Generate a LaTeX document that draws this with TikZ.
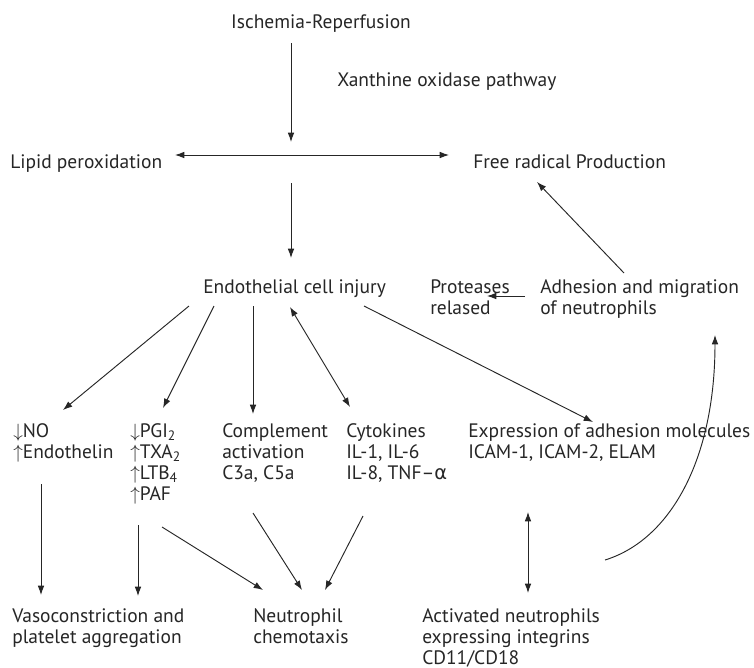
\documentclass[tikz,border=0pt]{standalone}
\usepackage{fontspec}
\setmainfont{PT Sans}
\newfontfamily\grk{DejaVu Sans}
\usetikzlibrary{arrows.meta}
\newcommand{\ml}[1]{\begin{tabular}[t]{@{}l@{}}#1\end{tabular}}
\begin{document}
\begin{tikzpicture}[x=0.75pt,y=-0.75pt,
  txt/.style={inner sep=0pt, anchor=base west, font=\fontsize{14.6}{15.75}\selectfont, text=black!85},
  arr/.style={draw=black!85, line width=0.7pt, -{Latex[length=7pt,width=5pt]}},
  darr/.style={draw=black!85, line width=0.7pt, {Latex[length=7pt,width=5pt]}-{Latex[length=7pt,width=5pt]}}]
\useasboundingbox[fill=white] (0,0) rectangle (754,668);

% texts
\node[txt, anchor=base] (isch) at (321,28.5) {Ischemia-Reperfusion};
\node[txt] (xan) at (337,86.5) {Xanthine oxidase pathway};
\node[txt] (lipid) at (10,168) {Lipid peroxidation};
\node[txt] (free) at (473,168) {Free radical Production};
\node[txt] (endo) at (203,293) {Endothelial cell injury};
\node[txt] (prot) at (430,293) {\ml{Proteases\\relased}};
\node[txt] (adh) at (540,293) {\ml{Adhesion and migration\\of neutrophils}};
\node[txt] (no) at (13,437) {\ml{$\downarrow$NO\\$\uparrow$Endothelin}};
\node[txt] (pgi) at (130,437) {\ml{$\downarrow$PGI\textsubscript{2}\\$\uparrow$TXA\textsubscript{2}\\$\uparrow$LTB\textsubscript{4}\\$\uparrow$PAF}};
\node[txt] (comp) at (222,437) {\ml{Complement\\activation\\C3a, C5a}};
\node[txt] (cyto) at (346,437) {\ml{Cytokines\\IL-1, IL-6\\IL-8, TNF--{\grk α}}};
\node[txt] (expr) at (468,437) {\ml{Expression of adhesion molecules\\ICAM-1, ICAM-2, ELAM}};
\node[txt] (vaso) at (12,622) {\ml{Vasoconstriction and\\platelet aggregation}};
\node[txt] (neut) at (253,622) {\ml{Neutrophil\\chemotaxis}};
\node[txt] (act) at (422,622) {\ml{Activated neutrophils\\expressing integrins\\CD11/CD18}};

% connector end points
\coordinate (i1) at (291,43);   \coordinate (i2) at (291,142);
\coordinate (h1) at (175,155);  \coordinate (h2) at (449,155);
\coordinate (e0) at (291,183);  \coordinate (e1) at (291,258);
\coordinate (p1) at (525,296);  \coordinate (p2) at (487,296);
\coordinate (f1) at (624,273);  \coordinate (f2) at (537,182);
\coordinate (n1) at (189,306);  \coordinate (n2) at (63,410);
\coordinate (g1) at (214,306);  \coordinate (g2) at (163,408);
\coordinate (c1) at (253,306);  \coordinate (c2) at (253,414);
\coordinate (k1) at (290,307);  \coordinate (k2) at (350,407);
\coordinate (x1) at (364,306);  \coordinate (x2) at (593,422);
\coordinate (v1) at (41,484);   \coordinate (v2) at (41,595);
\coordinate (w1) at (138,525);  \coordinate (w2) at (138,596);
\coordinate (q1) at (162,527);  \coordinate (q2) at (263,590);
\coordinate (r1) at (253,513);  \coordinate (r2) at (302,590);
\coordinate (s1) at (363,516);  \coordinate (s2) at (325,590);
\coordinate (a1) at (528,512);  \coordinate (a2) at (528,593);
\coordinate (u1) at (605,560);  \coordinate (u2) at (715,335);

% connectors
\draw[arr] (i1) -- (i2);
\draw[darr] (h1) -- (h2);
\draw[arr] (e0) -- (e1);
\draw[arr] (p1) -- (p2);
\draw[arr] (f1) -- (f2);
\draw[arr] (n1) -- (n2);
\draw[arr] (g1) -- (g2);
\draw[arr] (c1) -- (c2);
\draw[darr] (k1) -- (k2);
\draw[arr] (x1) -- (x2);
\draw[arr] (v1) -- (v2);
\draw[arr] (w1) -- (w2);
\draw[arr] (q1) -- (q2);
\draw[arr] (r1) -- (r2);
\draw[arr] (s1) -- (s2);
\draw[darr] (a1) -- (a2);
\draw[arr] (u1) .. controls (670,540) and (715,460) .. (u2);
\end{tikzpicture}
\end{document}
